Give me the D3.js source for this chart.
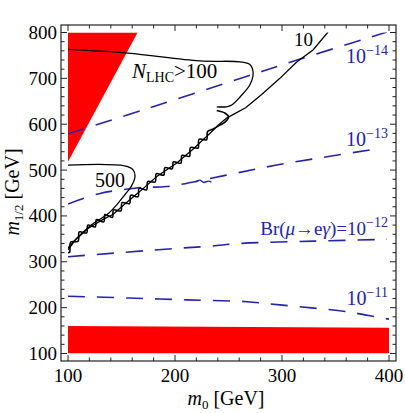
<!DOCTYPE html>
<html>
<head>
<meta charset="utf-8">
<script src="https://cdn.jsdelivr.net/npm/d3@7"></script>
<style>
body { margin: 0; background: #fff; }
svg text { font-family: "Liberation Serif", "Times New Roman", serif; }
</style>
</head>
<body>
<svg id="chart" width="405" height="413"></svg>
<script>
// tick values
const xMajor = [100, 200, 300, 400];
const yMajor = [100, 200, 300, 400, 500, 600, 700, 800];

// excluded regions (red)
const triangleRegion = [[100, 800], [165, 800], [100, 518]];
const bandRegion = [[100, 100], [100, 160], [400, 156], [400, 100]];

// Br(mu -> e gamma) contours (blue dashed)
const br14 = [[100, 579], [170, 631], [248, 690], [317, 742], [398, 801]];
const br13 = [[100, 426], [130, 449], [170, 462], [192, 464], [248, 489], [295, 511], [342, 529], [388, 546]];
const br13Glitch = [[219, 474], [223, 478], [227, 473], [231, 476], [234, 474]];
const br12 = [[100, 311], [200, 329], [233, 334], [261, 340], [330, 345], [398, 349]];
const br11 = [[100, 225], [157, 221], [211, 217], [267, 213], [298, 206], [330, 199], [361, 191], [392, 178], [400, 175]];

// N_LHC contours (black)
const contour10 = [[343, 801], [329, 762], [314, 736], [298, 700], [281, 665], [266, 636], [255, 622],
  [248, 613], [240, 597], [233, 581], [217, 546], [202, 516], [183, 486], [167, 453], [155, 430],
  [142, 403], [134, 394], [119, 373], [107, 348], [100, 326]];
const contour100Top = [[100, 763], [156, 755], [223, 738], [261, 736], [270, 730], [273, 711],
  [270, 686], [261, 660], [253, 642], [248, 638], [239, 638]];
const contour100Wiggle = [[239, 630], [247, 624], [250, 616], [247, 605], [242, 598], [236, 590],
  [230.5, 584], [229.5, 566], [222.5, 567], [221.5, 548], [214.5, 549], [213.5, 530], [206.5, 532],
  [205.5, 515], [198.5, 518], [197.5, 503], [190.5, 505], [189.5, 489], [182.5, 492], [181.5, 474],
  [174.5, 475], [173.5, 457], [166.5, 460], [165.5, 442], [158.5, 445], [157.5, 427], [150.5, 429],
  [149.5, 411], [142.5, 413], [141.5, 397], [134.5, 403], [133.5, 387], [126.5, 392], [125.5, 376],
  [118.5, 380], [117.5, 363], [110.5, 365], [109.5, 345], [102.5, 343], [101.5, 321], [100, 320]];
const contour500 = [[100, 511], [153, 509], [161, 500], [162.6, 486], [159, 464], [153, 446],
  [145.5, 424], [138, 406], [132, 396], [124, 384], [116, 369], [108, 351], [100, 330]];

const blue = "#2424aa";

const svg = d3.select("#chart");
const x = d3.scaleLinear().domain([100, 400]).range([68, 389]);
const y = d3.scaleLinear().domain([100, 800]).range([353.5, 32.5]);
const frame = {left: 61, right: 396, top: 25, bottom: 361};

svg.append("defs").append("clipPath").attr("id", "plotclip")
  .append("rect")
  .attr("x", x(100)).attr("y", y(800))
  .attr("width", x(400) - x(100)).attr("height", y(100) - y(800));

const g = svg.append("g").attr("clip-path", "url(#plotclip)");
const line = d3.line().x(d => x(d[0])).y(d => y(d[1]));
const smooth = d3.line().x(d => x(d[0])).y(d => y(d[1])).curve(d3.curveCatmullRom);

g.selectAll("path.region")
  .data([triangleRegion, bandRegion])
  .enter().append("path")
  .attr("class", "region")
  .attr("d", d => line(d) + "Z")
  .style("fill", "#ff0000").style("stroke", "none");

g.selectAll("path.br")
  .data([br14, br13, br12, br11])
  .enter().append("path")
  .attr("class", "br")
  .attr("d", smooth)
  .style("fill", "none").style("stroke", blue)
  .style("stroke-width", 1.6).style("stroke-dasharray", "17,12");

g.append("path").attr("d", smooth(br13Glitch))
  .style("fill", "none").style("stroke", blue).style("stroke-width", 1.4);

g.append("path").attr("d", line(contour10))
  .style("fill", "none").style("stroke", "#000").style("stroke-width", 1.3);
g.append("path").attr("d", smooth(contour100Top))
  .style("fill", "none").style("stroke", "#000").style("stroke-width", 1.3);
g.append("path").attr("d", smooth(contour100Wiggle))
  .style("fill", "none").style("stroke", "#000").style("stroke-width", 1.6);
g.append("path").attr("d", smooth(contour500))
  .style("fill", "none").style("stroke", "#000").style("stroke-width", 1.3);

// frame with inward ticks on every side
svg.append("rect")
  .attr("x", frame.left).attr("y", frame.top)
  .attr("width", frame.right - frame.left).attr("height", frame.bottom - frame.top)
  .style("fill", "none").style("stroke", "#222").style("stroke-width", 1.2);

const xAll = d3.range(100, 401, 20);
const yAll = d3.range(100, 801, 20);
const tickLen = v => (v % 100 === 0 ? 6 : 3.5);
const ticks = svg.append("g").style("stroke", "#222").style("stroke-width", 1);
xAll.forEach(v => {
  ticks.append("line").attr("x1", x(v)).attr("x2", x(v)).attr("y1", frame.bottom).attr("y2", frame.bottom - tickLen(v));
  ticks.append("line").attr("x1", x(v)).attr("x2", x(v)).attr("y1", frame.top).attr("y2", frame.top + tickLen(v));
});
yAll.forEach(v => {
  ticks.append("line").attr("y1", y(v)).attr("y2", y(v)).attr("x1", frame.left).attr("x2", frame.left + tickLen(v));
  ticks.append("line").attr("y1", y(v)).attr("y2", y(v)).attr("x1", frame.right).attr("x2", frame.right - tickLen(v));
});

svg.selectAll("text.xt").data(xMajor).enter().append("text")
  .attr("class", "xt").attr("x", d => x(d)).attr("y", 382)
  .attr("text-anchor", "middle").style("font-size", "19px").text(d => d);
svg.selectAll("text.yt").data(yMajor).enter().append("text")
  .attr("class", "yt").attr("x", 57).attr("y", d => y(d) + 6.5)
  .attr("text-anchor", "end").style("font-size", "19px").text(d => d);

// axis titles
const xl = svg.append("text").attr("x", 226).attr("y", 405).attr("text-anchor", "middle").style("font-size", "20px");
xl.append("tspan").style("font-style", "italic").text("m");
xl.append("tspan").attr("dy", 4).style("font-size", "13px").text("0");
xl.append("tspan").attr("dy", -4).text(" [GeV]");

const yl = svg.append("text").attr("transform", "translate(19,192) rotate(-90)")
  .attr("text-anchor", "middle").style("font-size", "20px");
yl.append("tspan").style("font-style", "italic").text("m");
yl.append("tspan").attr("dy", 4).style("font-size", "13px").text("1/2");
yl.append("tspan").attr("dy", -4).text(" [GeV]");

// contour labels
svg.append("text").attr("x", 294).attr("y", 46).style("font-size", "19px").text("10");
svg.append("text").attr("x", 95).attr("y", 187).style("font-size", "20px").text("500");
const nl = svg.append("text").attr("x", 132).attr("y", 78).style("font-size", "21px");
nl.append("tspan").style("font-style", "italic").text("N");
nl.append("tspan").attr("dy", 4).style("font-size", "14px").text("LHC");
nl.append("tspan").attr("dy", -4).text(">100");

const brLabels = [["10", "\u221214", 63], ["10", "\u221213", 145.5], ["10", "\u221211", 305]];
brLabels.forEach(([base, exp, yy]) => {
  const t = svg.append("text").attr("x", 388).attr("y", yy).attr("text-anchor", "end")
    .style("font-size", "20px").style("fill", blue);
  t.append("tspan").text(base);
  t.append("tspan").attr("dy", -8).style("font-size", "14px").text(exp);
});
const b12 = svg.append("text").attr("x", 388).attr("y", 235).attr("text-anchor", "end")
  .style("font-size", "19px").style("fill", blue);
b12.append("tspan").text("Br(");
b12.append("tspan").style("font-style", "italic").text("\u03bc");
b12.append("tspan").text("\u2192e");
b12.append("tspan").style("font-style", "italic").text("\u03b3");
b12.append("tspan").text(")=10");
b12.append("tspan").attr("dy", -8).style("font-size", "14px").text("\u221212");
</script>
</body>
</html>
